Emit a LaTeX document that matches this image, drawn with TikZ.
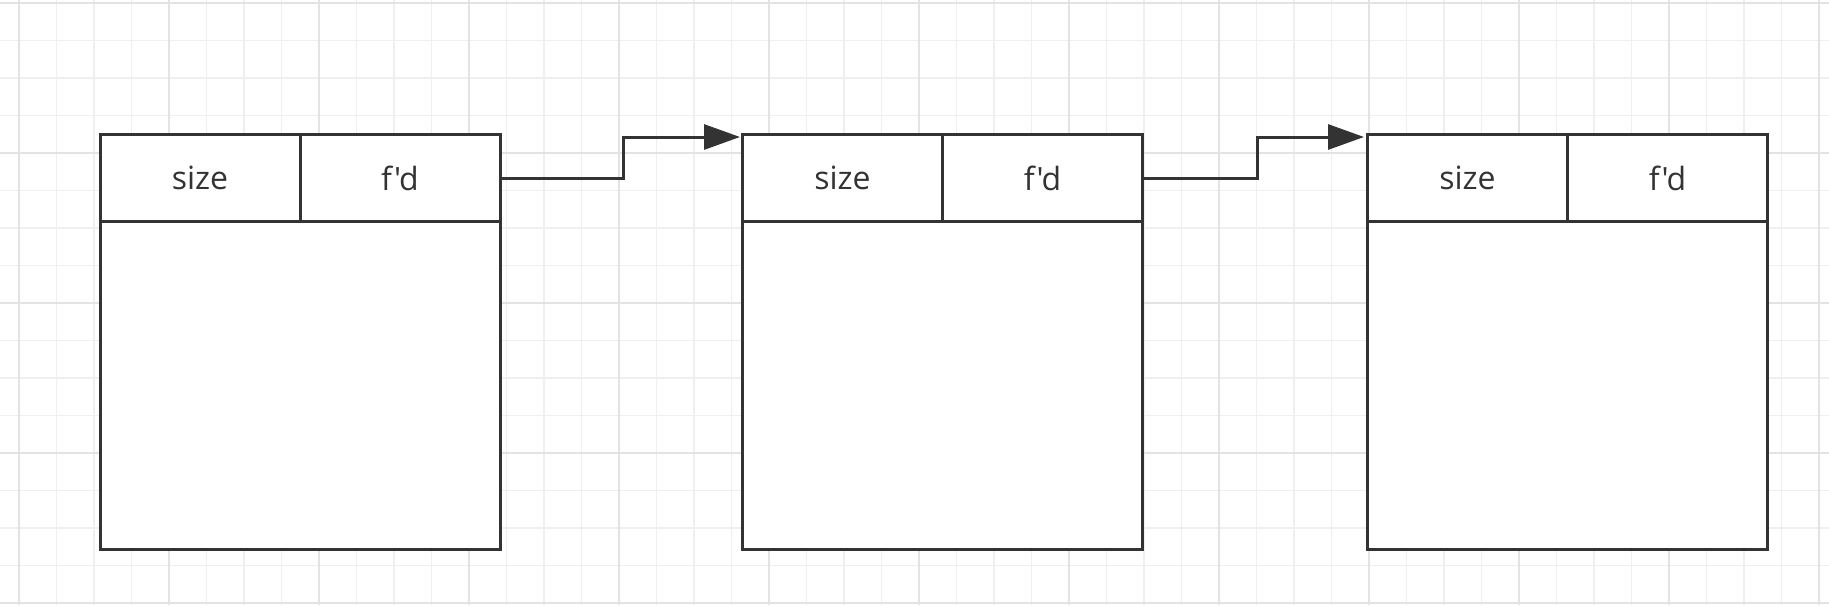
\documentclass[tikz,border=0pt]{standalone}
\usepackage{fontspec}
\setmainfont{Open Sans}[Ligatures=TeXOff]
\usetikzlibrary{arrows.meta}
\definecolor{ink}{HTML}{333333}
\definecolor{gridminor}{HTML}{EFEFEF}
\definecolor{gridmajor}{HTML}{E3E3E3}
\tikzset{
  cell/.style={draw=ink, fill=white, line width=1.5pt, minimum width=100pt, minimum height=43.5pt, inner sep=0pt, text=ink, font=\fontsize{16pt}{19pt}\selectfont},
  bodybox/.style={draw=ink, fill=white, line width=1.5pt, minimum width=200pt, minimum height=164pt, inner sep=0pt},
  conn/.style={draw=ink, line width=1.5pt, -{Triangle[length=18pt,width=12.5pt]}},
  minorline/.style={draw=gridminor, line width=0.7pt},
  majorline/.style={draw=gridmajor, line width=1pt}
}
\begin{document}
\begin{tikzpicture}[x=0.5pt,y=-0.5pt]
\useasboundingbox (0,0) rectangle (1829,605);
\fill[white] (0,0) rectangle (1829,605);
% grid
\foreach \i in {0,...,48} {
  \pgfmathsetmacro{\gx}{19+37.5*\i}
  \draw[minorline] (\gx,0) -- (\gx,605);
}
\foreach \j in {0,...,16} {
  \pgfmathsetmacro{\gy}{3+37.5*\j}
  \draw[minorline] (0,\gy) -- (1829,\gy);
}
\foreach \i in {0,...,12} {
  \pgfmathsetmacro{\gx}{19+150*\i}
  \draw[majorline] (\gx,0) -- (\gx,605);
}
\foreach \j in {0,...,4} {
  \pgfmathsetmacro{\gy}{3+150*\j}
  \draw[majorline] (0,\gy) -- (1829,\gy);
}
% box 1
\node[bodybox] (b1) at (300,385.5) {};
\node[cell] (s1) at (200,178) {size};
\node[cell] (f1) at (400,178) {f'd};
% box 2
\node[bodybox] (b2) at (942.5,385.5) {};
\node[cell] (s2) at (842.5,178) {size};
\node[cell] (f2) at (1042.5,178) {f'd};
% box 3
\node[bodybox] (b3) at (1567.5,385.5) {};
\node[cell] (s3) at (1467.5,178) {size};
\node[cell] (f3) at (1667.5,178) {f'd};
% connectors
\coordinate (t1) at (740,137);
\coordinate (t2) at (1364,137);
\draw[conn] (f1.east) -- ++(122,0) |- (t1);
\draw[conn] (f2.east) -- ++(113,0) |- (t2);
\end{tikzpicture}
\end{document}
